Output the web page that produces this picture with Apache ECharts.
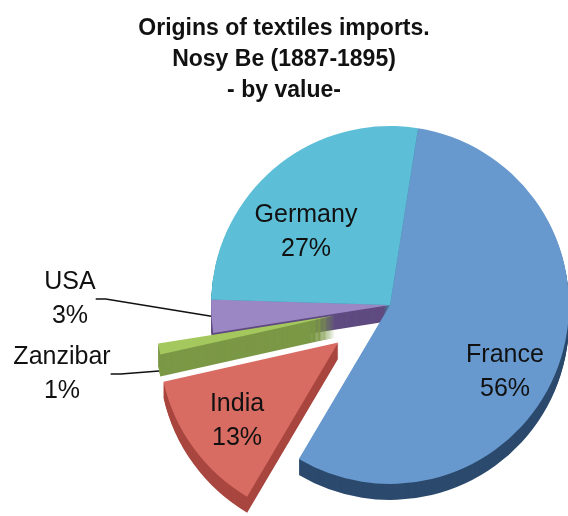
<!DOCTYPE html>
<html>
<head>
<meta charset="utf-8">
<script src="https://cdn.jsdelivr.net/npm/echarts@6/dist/echarts.min.js"></script>
<style>
  html, body { margin: 0; padding: 0; background: #fff; }
  #main { width: 568px; height: 516px; }
</style>
</head>
<body>
<div id="main"></div>
<script>
// data
const countries = ['France', 'India', 'Zanzibar', 'USA', 'Germany'];
const shares = [56, 13, 1, 3, 27];

// styling
const topColors = ['#6799cf', '#d96c62', '#a5c85e', '#9c87c5', '#5dbfd7'];
const sideColors = ['#2c4a6d', '#a8463f', '#7b9846', '#5f4b80', '#3d8fa4'];
const explode = [0, 64, 56, 0, 0];    // px pulled out along the slice middle
const depths = [16, 16, 22, 16, 16];
const outsideLabels = ['USA', 'Zanzibar'];
const labelPos = {
    France: [505, 372], Germany: [306, 232], India: [237, 421],
    USA: [70, 299], Zanzibar: [62, 374]
};

const cx = 390, cy = 305, radius = 179, startAngle = 81;
const font = 'Liberation Sans';

var chartDom = document.getElementById('main');
var myChart = echarts.init(chartDom);

// middle angle of each slice, to place the exploded ones
const total = shares.reduce((a, b) => a + b, 0);
let acc = 0;
const centers = shares.map((v, i) => {
    const mid = (startAngle - (acc + v / 2) / total * 360) * Math.PI / 180;
    acc += v;
    return [cx + explode[i] * Math.cos(mid), cy - explode[i] * Math.sin(mid)];
});

// slices that share a center go into one group
const groups = [[0, 3, 4], [1], [2]];

function makeSeries(group, dy, isTop, labelled) {
    const c = centers[group[0]];
    return {
        type: 'pie',
        center: [c[0], c[1] + dy],
        radius: radius,
        startAngle: startAngle,
        clockwise: true,
        silent: true,
        animation: false,
        avoidLabelOverlap: false,
        z: isTop ? 3 : 2,
        label: {
            show: false,
            fontFamily: font,
            fontSize: 25,
            lineHeight: 34,
            color: '#111',
            formatter: p => p.name + '\n' + p.value + '%'
        },
        labelLine: { show: false },
        labelLayout: function (params) {
            const p = labelPos[countries[params.dataIndex]];
            return { x: p[0], y: p[1], align: 'center', verticalAlign: 'middle' };
        },
        data: countries.map((n, i) => {
            const on = group.includes(i);
            const item = {
                name: n,
                value: shares[i],
                itemStyle: {
                    color: on ? (isTop ? topColors[i] : sideColors[i]) : 'rgba(0,0,0,0)',
                    borderWidth: 0
                },
                label: { show: false }
            };
            if (on && labelled.includes(n)) {
                const outside = outsideLabels.includes(n);
                item.label = { show: true, position: outside ? 'outside' : 'inside' };
                if (outside) {
                    item.labelLine = { show: true, length: 10, length2: 10, lineStyle: { color: '#111', width: 1.5 } };
                }
            }
            return item;
        })
    };
}

const series = [];
groups.forEach(g => {
    const d0 = depths[g[0]];
    for (let d = d0; d >= 1; d--) {
        // the Zanzibar leader line ends on the lower edge of its side
        series.push(makeSeries(g, d, false, d === d0 ? ['Zanzibar'] : []));
    }
    series.push(makeSeries(g, 0, true, ['France', 'Germany', 'India', 'USA']));
});

var option = {
    backgroundColor: '#fff',
    title: {
        text: 'Origins of textiles imports.\nNosy Be (1887-1895)\n- by value-',
        left: 'center',
        top: 8,
        textStyle: {
            fontFamily: font,
            fontWeight: 'bold',
            fontSize: 23,
            lineHeight: 31,
            color: '#111'
        }
    },
    series: series
};

myChart.setOption(option);
</script>
</body>
</html>
